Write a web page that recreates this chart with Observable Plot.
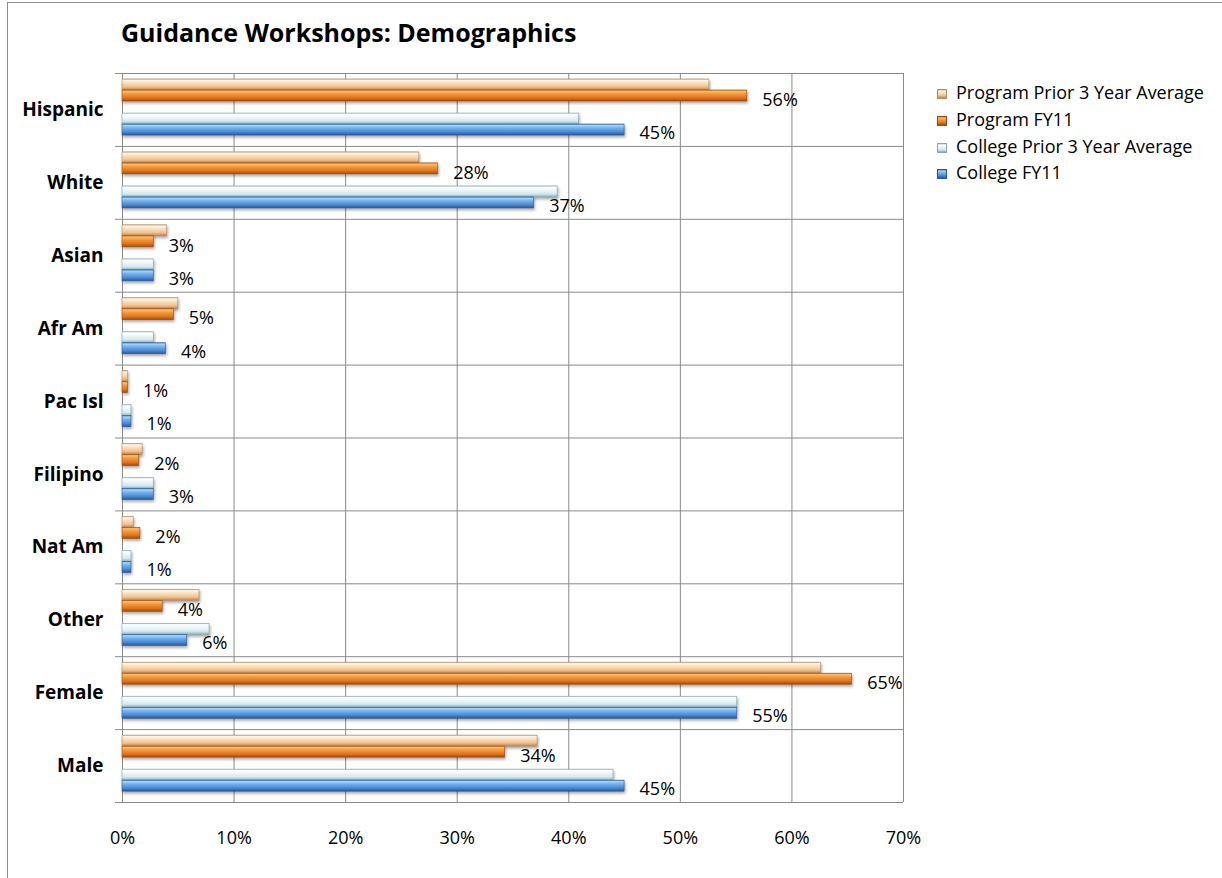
<!DOCTYPE html>
<html><head><meta charset="utf-8">
<script src="https://cdn.jsdelivr.net/npm/d3@7"></script>
<script src="https://cdn.jsdelivr.net/npm/@observablehq/plot@0.6"></script>
<style>
body{margin:0;background:#fff;font-family:"Open Sans",sans-serif;}
#wrap{position:relative;width:1222px;height:878px;overflow:hidden;background:#fff;}
#frame{position:absolute;left:7px;top:2px;width:1300px;height:1000px;border-left:1px solid #8c8c8c;border-top:1px solid #8c8c8c;}
#chart{position:absolute;left:0;top:0;}
#title{position:absolute;left:121px;top:20px;font-weight:700;font-size:25px;line-height:25px;color:#000;white-space:nowrap;}
.lg{position:absolute;left:956px;font-size:18px;line-height:18px;color:#000;white-space:nowrap;}
.sw{position:absolute;left:937px;width:8px;height:8px;border:1px solid #999;}
</style></head>
<body>
<div id="wrap"><div id="frame"></div><div id="chart"></div><div id="title">Guidance Workshops: Demographics</div><div id="legend"></div></div>
<script>
const categories = ["Hispanic","White","Asian","Afr Am","Pac Isl","Filipino","Nat Am","Other","Female","Male"];
const seriesNames = ["Program Prior 3 Year Average","Program FY11","College Prior 3 Year Average","College FY11"];
const programPrior = [52.6, 26.6, 4.0, 5.0, 0.5, 1.8, 1.0, 6.9, 62.6, 37.2];
const programFY11  = [56.0, 28.3, 2.8, 4.6, 0.5, 1.5, 1.6, 3.6, 65.4, 34.3];
const collegePrior = [40.9, 39.0, 2.8, 2.8, 0.8, 2.8, 0.8, 7.8, 55.1, 44.0];
const collegeFY11  = [45.0, 36.9, 2.8, 3.9, 0.8, 2.8, 0.8, 5.8, 55.1, 45.0];
const xTicks = [0, 10, 20, 30, 40, 50, 60, 70];
const labeledSeries = [1, 3];

const series = [programPrior, programFY11, collegePrior, collegeFY11];
const slots = [[0.082,0.233],[0.233,0.384],[0.549,0.700],[0.700,0.851]];
const labelOff = {1: 0.363, 3: 0.817};
const gradIds = ["gPP","gPF","gCP","gCF"];
const strokes = ["#b98b60","#9a4d10","#8aa9b2","#2b5993"];
const grads = [
  [[0,"#d9ab7e"],[0.12,"#fff7ec"],[0.35,"#fbe0bf"],[0.72,"#f0c08c"],[1,"#b9854f"]],
  [[0,"#d8862f"],[0.12,"#fcbc6c"],[0.35,"#f29a3c"],[0.72,"#e2731a"],[1,"#9d4d0d"]],
  [[0,"#b5d0d7"],[0.12,"#ffffff"],[0.35,"#eef8fa"],[0.72,"#d4e9ee"],[1,"#8fb2bb"]],
  [[0,"#4f8ccc"],[0.12,"#a6d6fa"],[0.35,"#74b2ee"],[0.72,"#4a88d2"],[1,"#2a5895"]]
];

const data = [];
series.forEach((vals, k) => vals.forEach((v, i) => data.push({
  cat: categories[i], i, k, value: v,
  y1: i + slots[k][0], y2: i + slots[k][1]
})));

const gridColor = "#8a8a8a";
const marks = [
  Plot.ruleX(xTicks, {x: d => d, y1: 0, y2: categories.length, stroke: gridColor, strokeWidth: 1}),
  Plot.ruleY(d3.range(categories.length + 1), {y: d => d, x1: 0, x2: 70, insetLeft: -7, stroke: gridColor, strokeWidth: 1})
];
series.forEach((vals, k) => {
  marks.push(Plot.rect(data.filter(d => d.k === k), {
    x1: () => 0, x2: "value", y1: "y1", y2: "y2",
    fill: `url(#${gradIds[k]})`, stroke: strokes[k], strokeWidth: 0.6
  }));
});
labeledSeries.forEach(k => {
  marks.push(Plot.text(data.filter(d => d.k === k), {
    x: "value", y: d => d.i + labelOff[k],
    text: d => Math.round(d.value) + "%",
    textAnchor: "start", dx: 15, fontSize: 18, fill: "#000"
  }));
});
marks.push(Plot.text(categories, {
  frameAnchor: "left", y: (d, i) => i + 0.5, text: d => d,
  textAnchor: "end", dx: -19, fontWeight: "bold", fontSize: 19, fill: "#000"
}));
marks.push(Plot.axisX(xTicks, {
  tickFormat: d => d + "%", tickSize: 0, tickPadding: 29, fontSize: 18, fill: "#000", anchor: "bottom", label: null
}));

const svg = Plot.plot({
  width: 1222, height: 878,
  marginLeft: 122, marginRight: 319, marginTop: 73, marginBottom: 76,
  x: {domain: [0, 70], label: null},
  y: {domain: [0, categories.length], range: [73, 802], axis: null, label: null},
  style: {fontFamily: "Open Sans", fontSize: "18px", color: "#000", background: "transparent"},
  marks
});

const defs = d3.select(svg).insert("defs", ":first-child");
grads.forEach((stops, k) => {
  const g = defs.append("linearGradient").attr("id", gradIds[k])
    .attr("x1", 0).attr("y1", 0).attr("x2", 0).attr("y2", 1);
  stops.forEach(([o, c]) => g.append("stop").attr("offset", o).attr("stop-color", c));
});
d3.select(svg).selectAll('g[aria-label="rect"]').style("filter", "drop-shadow(1px 2px 1.5px rgba(0,0,0,0.35))");
document.getElementById("chart").appendChild(svg);

const baselines = [99, 126, 153, 179];
const legend = document.getElementById("legend");
seriesNames.forEach((name, k) => {
  const sw = document.createElement("div");
  sw.className = "sw";
  sw.style.top = (baselines[k] - 10) + "px";
  sw.style.background = "linear-gradient(to bottom," + grads[k].map(([o, c]) => c + " " + (o * 100) + "%").join(",") + ")";
  sw.style.borderColor = strokes[k];
  legend.appendChild(sw);
  const t = document.createElement("div");
  t.className = "lg";
  t.style.top = (baselines[k] - 16) + "px";
  t.textContent = name;
  legend.appendChild(t);
});
</script>
</body></html>
